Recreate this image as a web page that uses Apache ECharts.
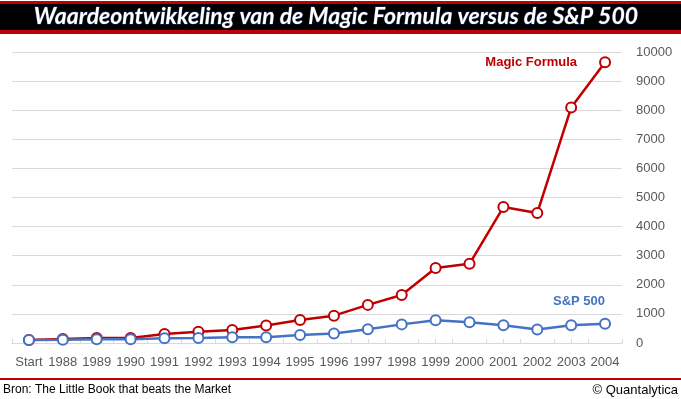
<!DOCTYPE html>
<html>
<head>
<meta charset="utf-8">
<script src="https://cdn.jsdelivr.net/npm/echarts@6/dist/echarts.min.js"></script>
<style>
  html, body { margin: 0; padding: 0; background: #fff; }
  #chart { width: 681px; height: 399px; }
</style>
</head>
<body>
<div id="chart"></div>
<script>
// categorieen en waarden
const years = ['Start', '1988', '1989', '1990', '1991', '1992', '1993', '1994', '1995',
  '1996', '1997', '1998', '1999', '2000', '2001', '2002', '2003', '2004'];
const magicFormula = [100, 140, 170, 170, 310, 390, 450, 600, 790, 940, 1310, 1650,
  2580, 2720, 4670, 4470, 8090, 9650];
const sp500 = [100, 110, 130, 130, 160, 170, 195, 200, 275, 330, 470, 640, 780, 710,
  610, 460, 610, 665];

const titleText = 'Waardeontwikkeling van de Magic Formula versus de S&P 500';
const sourceText = 'Bron: The Little Book that beats the Market';
const creditText = '\u00A9 Quantalytica';

const RED = '#c00000';
const BLUE = '#4472c4';
const GRID = '#d9d9d9';
const LABEL = '#595959';

const chart = echarts.init(document.getElementById('chart'));

const lineSeries = (name, data, color, label) => ({
  name: name,
  type: 'line',
  data: data.map((v, i) => i === data.length - 1 ? { value: v, label: label } : v),
  symbol: 'circle',
  symbolSize: 10,
  lineStyle: { color: color, width: 2.5 },
  itemStyle: { color: '#fff', borderColor: color, borderWidth: 2 },
  label: { show: false },
  emphasis: { disabled: true },
  animation: false
});

const option = {
  backgroundColor: '#fff',
  textStyle: { fontFamily: 'Liberation Sans' },
  grid: { left: 12, right: 59, top: 52, bottom: 56 },
  xAxis: [
    {
      type: 'category',
      data: years,
      boundaryGap: true,
      axisLine: { lineStyle: { color: GRID, width: 1 } },
      axisTick: { show: true, inside: true, length: 4, lineStyle: { color: GRID } },
      axisLabel: { color: LABEL, fontSize: 13, margin: 13, interval: 0 }
    },
    {
      // extra streepjes midden onder elke categorie
      type: 'category',
      data: years,
      position: 'bottom',
      boundaryGap: true,
      axisLine: { show: false },
      axisTick: { show: true, inside: true, length: 4, alignWithLabel: true, lineStyle: { color: GRID } },
      axisLabel: { show: false }
    }
  ],
  yAxis: {
    type: 'value',
    position: 'right',
    min: 0,
    max: 10000,
    interval: 1000,
    axisLine: { show: false },
    axisTick: { show: false },
    splitLine: { lineStyle: { color: GRID, width: 1 } },
    axisLabel: { color: LABEL, fontSize: 13, margin: 14, formatter: v => String(v) }
  },
  series: [
    lineSeries('Magic Formula', magicFormula, RED, {
      show: true, formatter: 'Magic Formula', position: 'left', distance: 22,
      color: RED, fontWeight: 'bold', fontSize: 13
    }),
    lineSeries('S&P 500', sp500, BLUE, {
      show: true, formatter: 'S&P 500', position: 'top', align: 'right', distance: 10,
      color: BLUE, fontWeight: 'bold', fontSize: 13
    })
  ],
  graphic: [
    { type: 'rect', shape: { x: 0, y: 1, width: 681, height: 33 }, style: { fill: RED }, silent: true },
    { type: 'rect', shape: { x: 0, y: 4, width: 681, height: 26 }, style: { fill: '#000' }, silent: true },
    {
      type: 'text', x: 336, y: 17,
      style: {
        text: titleText, fill: '#fff', align: 'center', verticalAlign: 'middle',
        font: 'italic bold 23px Lato', stroke: '#1f3864', lineWidth: 1
      }
    },
    { type: 'rect', shape: { x: 0, y: 378, width: 681, height: 2 }, style: { fill: RED }, silent: true },
    {
      type: 'text', x: 3, y: 390,
      style: { text: sourceText, fill: '#000', verticalAlign: 'middle', font: '12px Liberation Sans' }
    },
    {
      type: 'text', x: 678, y: 390,
      style: { text: creditText, fill: '#000', align: 'right', verticalAlign: 'middle', font: '13px Liberation Sans' }
    }
  ]
};

chart.setOption(option);
</script>
</body>
</html>
